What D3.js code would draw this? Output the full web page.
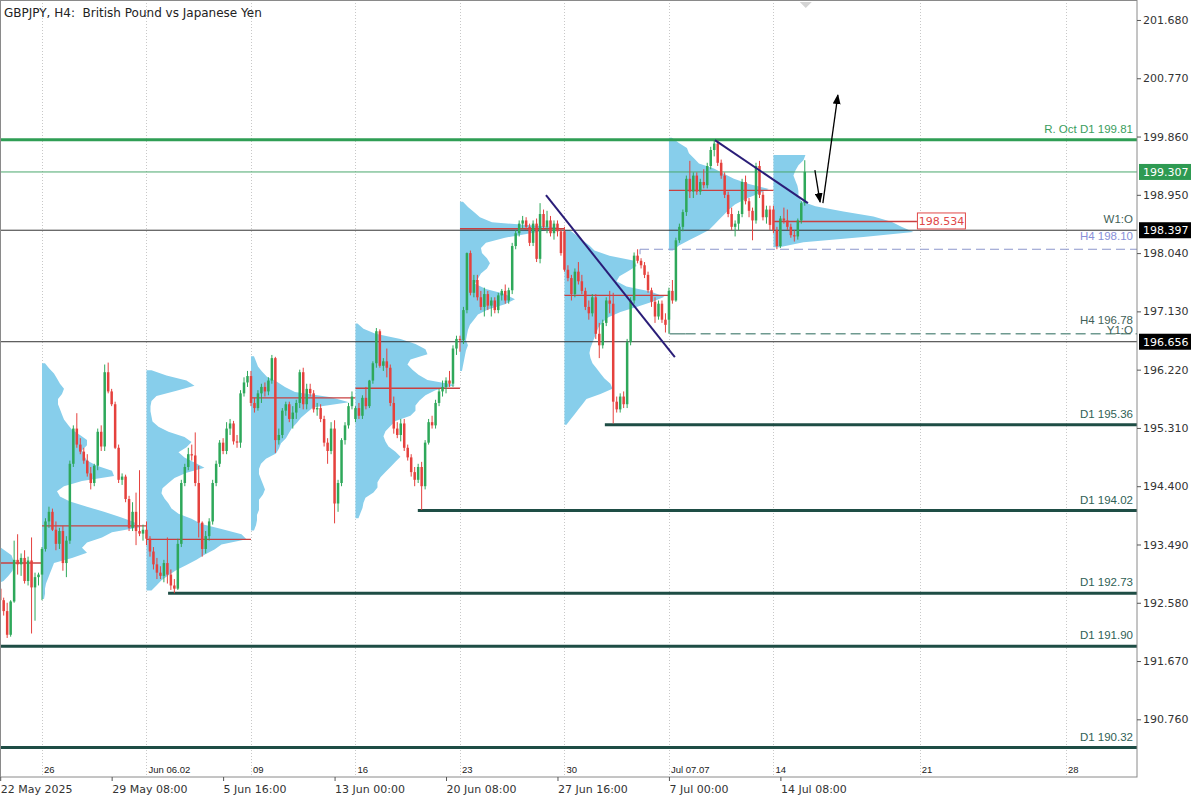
<!DOCTYPE html>
<html><head><meta charset="utf-8"><title>GBPJPY H4</title>
<script src="https://cdn.jsdelivr.net/npm/d3@7/dist/d3.min.js"></script>
<style>html,body{margin:0;padding:0;background:#fff}svg{display:block}</style>
</head><body><svg id="chart" width="1200" height="800"></svg>
<script>
// ---------- DATA ----------
const opens=[
192.80,192.62,192.45,192.08,192.60,193.25,193.18,193.28,192.92,193.24,192.82,192.98,
193.02,193.42,193.85,194.00,193.72,193.50,193.70,193.20,193.55,194.75,195.30,195.05,194.94,194.80,194.60,194.45,194.72,195.25,195.02,196.18,195.88,195.68,195.00,194.50,194.55,194.20,193.75,194.00,193.70,193.66,
193.72,193.58,193.38,193.18,193.05,193.00,193.20,193.02,192.85,192.80,193.50,194.45,194.70,194.90,194.88,194.45,193.83,193.42,193.62,193.85,194.45,194.75,195.08,194.95,195.30,195.38,195.10,195.08,195.85,196.02,
196.12,195.70,195.62,195.85,195.95,195.88,196.05,196.40,195.12,195.20,195.58,195.68,195.45,195.55,195.70,196.18,195.68,195.92,195.85,195.60,195.62,195.45,195.08,194.95,195.30,194.13,194.45,195.12,195.35,195.65,
195.45,195.62,195.50,195.78,195.65,196.05,196.32,196.82,196.28,196.35,196.25,195.70,195.30,195.20,195.38,195.00,194.85,194.62,194.50,194.70,194.40,195.08,195.40,195.35,195.70,195.88,195.95,196.05,196.00,196.55,
196.70,196.68,197.15,198.04,197.42,197.62,197.35,197.20,197.40,197.22,197.30,197.15,197.38,197.45,197.30,197.46,198.15,198.35,198.50,198.55,198.45,198.20,198.50,197.95,198.65,198.45,198.55,198.35,198.50,198.38,
198.38,197.78,197.65,197.40,197.75,197.60,197.45,197.20,197.10,197.35,196.78,196.60,196.95,197.30,197.25,195.72,195.60,195.80,195.68,196.65,197.30,198.00,197.92,197.85,197.70,197.46,197.28,197.05,197.25,197.00,
197.00,197.45,197.30,198.24,198.45,198.68,199.20,199.00,199.25,199.00,199.15,199.10,199.40,199.65,199.75,199.45,199.25,198.95,198.65,198.45,198.50,198.65,199.15,198.85,198.70,198.55,199.40,198.95,198.60,198.72,
198.72,198.40,198.15,198.58,198.55,198.45,198.32,198.30,198.55,198.82];
const highs=[
192.88,192.66,192.58,192.62,193.55,193.65,193.35,193.40,193.30,193.60,193.05,193.05,
193.45,193.90,194.08,194.05,193.85,193.75,193.78,193.62,194.80,195.35,195.54,195.15,195.00,194.90,194.70,194.75,195.30,195.35,196.30,196.33,195.92,195.72,195.05,194.60,194.58,194.25,194.15,194.30,194.65,193.80,
193.85,193.62,193.45,193.28,193.15,193.25,193.60,193.10,192.95,193.58,194.50,194.75,195.00,195.05,195.24,194.72,193.85,193.70,193.90,194.50,194.80,195.12,195.15,195.40,195.45,195.42,195.20,195.90,196.10,196.20,
196.20,195.78,195.90,196.00,196.02,196.10,196.45,196.42,195.30,195.62,195.72,195.72,195.65,195.75,196.22,196.25,196.00,196.00,195.90,195.70,195.68,195.50,195.15,195.40,195.43,194.50,195.15,195.40,195.70,195.88,
195.65,195.70,195.82,195.95,196.06,196.35,196.87,196.85,196.40,196.55,196.30,195.80,195.40,195.45,195.45,195.05,194.90,194.70,194.75,194.78,195.12,195.45,195.50,195.75,195.92,196.05,196.10,196.20,196.60,196.75,
196.75,197.20,198.05,198.08,197.70,197.70,197.45,197.50,197.45,197.35,197.35,197.42,197.48,197.55,197.50,198.20,198.40,198.55,198.62,198.60,198.50,198.55,198.58,198.82,198.72,198.70,198.62,198.55,198.55,198.42,
198.45,197.85,197.70,197.80,197.90,197.70,197.50,197.30,197.40,197.40,196.95,197.00,197.35,197.45,197.42,195.80,195.85,195.88,196.70,197.35,198.05,198.10,197.96,197.90,197.75,197.50,197.35,197.30,197.30,197.10,
197.50,197.62,198.28,198.50,198.72,199.25,199.48,199.30,199.30,199.20,199.35,199.45,199.70,199.82,199.80,199.50,199.30,199.00,198.75,198.55,198.70,199.20,199.25,198.90,198.75,199.45,199.48,199.00,198.78,198.78,
198.78,198.45,198.62,198.75,198.72,198.50,198.40,198.58,198.85,199.49];
const lows=[
192.55,192.38,192.03,192.05,192.58,193.02,193.00,192.88,192.85,192.10,192.30,192.85,
192.62,193.38,193.75,193.70,193.40,193.42,193.08,192.98,193.50,194.70,195.00,194.90,194.75,194.55,194.35,194.40,194.65,194.95,194.95,195.85,195.65,194.98,194.45,194.42,194.15,193.70,193.70,193.48,193.62,193.55,
193.48,193.30,193.10,192.95,192.95,192.90,192.88,192.78,192.73,192.78,193.45,194.40,194.65,194.80,194.40,193.60,193.30,193.35,193.55,193.80,194.40,194.70,194.90,194.90,195.20,195.05,195.00,195.00,195.80,195.95,
195.65,195.55,195.58,195.70,195.80,195.82,196.00,194.92,195.05,195.15,195.50,195.40,195.30,195.45,195.62,195.60,195.60,195.80,195.55,195.50,195.40,195.02,194.75,194.90,193.82,194.00,194.40,195.05,195.30,195.60,
195.40,195.45,195.45,195.60,195.62,196.00,196.25,196.25,196.20,196.10,195.65,195.22,195.15,195.10,194.95,194.80,194.55,194.40,194.45,194.03,194.35,195.05,195.30,195.30,195.65,195.80,195.85,195.95,195.95,196.45,
196.50,196.62,197.10,197.38,197.35,197.30,197.15,197.05,197.15,197.05,197.10,197.10,197.30,197.25,197.25,197.40,198.10,198.30,198.42,198.40,198.15,198.15,197.90,197.88,198.40,198.35,198.30,198.25,198.30,198.00,
197.75,197.60,197.30,197.35,197.55,197.40,197.15,197.00,197.05,196.70,196.40,196.55,196.90,197.10,195.38,195.55,195.55,195.62,195.62,196.60,197.25,197.88,197.80,197.65,197.42,197.20,196.95,197.00,196.95,196.80,
196.78,197.25,197.28,198.20,198.38,198.62,198.90,198.90,198.95,198.95,199.05,199.05,199.35,199.55,199.40,199.20,198.90,198.60,198.40,198.30,198.40,198.60,198.80,198.60,198.24,198.50,198.90,198.55,198.50,198.40,
198.35,198.10,198.12,198.50,198.40,198.28,198.22,198.25,198.50,198.78];
const closes=[
192.62,192.45,192.08,192.60,193.25,193.18,193.28,192.92,193.24,192.82,192.98,193.02,
193.42,193.85,194.00,193.72,193.50,193.70,193.20,193.55,194.75,195.30,195.05,194.94,194.80,194.60,194.45,194.72,195.25,195.02,196.18,195.88,195.68,195.00,194.50,194.55,194.20,193.75,194.00,193.70,193.66,193.72,
193.58,193.38,193.18,193.05,193.00,193.20,193.02,192.85,192.80,193.50,194.45,194.70,194.90,194.88,194.45,193.83,193.42,193.62,193.85,194.45,194.75,195.08,194.95,195.30,195.38,195.10,195.08,195.85,196.02,196.12,
195.70,195.62,195.85,195.95,195.88,196.05,196.40,195.12,195.20,195.58,195.68,195.45,195.55,195.70,196.18,195.68,195.92,195.85,195.60,195.62,195.45,195.08,194.95,195.30,194.13,194.45,195.12,195.35,195.65,195.80,
195.62,195.50,195.78,195.65,196.05,196.32,196.82,196.28,196.35,196.25,195.70,195.30,195.20,195.38,195.00,194.85,194.62,194.50,194.70,194.40,195.08,195.40,195.35,195.70,195.88,195.95,196.05,196.00,196.55,196.70,
196.68,197.15,198.04,197.42,197.62,197.35,197.20,197.40,197.22,197.30,197.15,197.38,197.45,197.30,197.46,198.15,198.35,198.50,198.55,198.45,198.20,198.50,197.95,198.65,198.45,198.55,198.35,198.50,198.38,198.04,
197.78,197.65,197.40,197.75,197.60,197.45,197.20,197.10,197.35,196.78,196.60,196.95,197.30,197.25,195.72,195.60,195.80,195.68,196.65,197.30,198.00,197.92,197.85,197.70,197.46,197.28,197.05,197.25,197.00,196.92,
197.45,197.30,198.24,198.45,198.68,199.20,199.00,199.25,199.00,199.15,199.10,199.40,199.65,199.75,199.45,199.25,198.95,198.65,198.45,198.50,198.65,199.15,198.85,198.70,198.55,199.40,198.95,198.60,198.72,198.48,
198.40,198.15,198.58,198.55,198.45,198.32,198.30,198.55,198.82,199.31];

// weekly volume profiles (volume per 0.08 price row, from top price downwards)
const profileStep=0.08;
const profileStartBars=[-18,12,42,72,102,132,162,192,222];
const profileTops=[193.56,196.32,196.21,196.43,196.94,198.84,198.40,199.84,199.57];
const pocPrices=[193.20,193.78,193.57,195.78,195.93,198.42,197.38,199.02,198.534];
const pocEndBars=[12,42,72,102,132,162,192,222,263.2];
const volW0=[50,60,67,74,76,76,75,71,66,55,50];
const volW1=[3,7,12,15,18,22,20,16,16,18,20,22,26,30,38,45,45,40,42,45,55,70,72,40,22,15,18,28,45,62,78,92,98,70,60,45,40,45,30,12,10,8,6,4,3,3,2];
const volW2=[5,20,40,48,30,10,5,4,4,5,6,12,22,38,45,40,32,38,48,58,40,28,22,16,15,18,22,25,32,45,55,75,95,100,75,68,58,50,40,30,22,15,10,5];
const volW3=[3,5,7,11,16,26,34,44,80,98,62,56,50,46,41,38,35,30,28,25,15,10,8,8,10,12,14,12,8,8,8,6,6,5,3];
const volW4=[2,8,20,45,60,70,72,55,52,57,63,72,100,80,70,64,60,60,55,40,35,30,28,30,33,40,45,40,35,30,25,22,22,18,10,8,7,5,3];
const volW5=[3,8,14,20,32,100,75,45,26,21,22,27,30,27,21,18,15,26,45,55,45,28,18,14,10,8,7,6,8,6,5,4,3,2];
const volW6=[5,12,18,25,30,45,70,72,64,55,52,62,86,100,88,72,56,44,38,34,32,30,28,26,25,26,28,32,36,40,46,48,36,22,18,14,10,6,2];
const volW7=[3,10,18,20,25,30,45,55,65,80,100,88,76,66,60,55,50,45,40,30,20,10,4];
const volW8=[32,30,25,22,20,22,24,25,25,28,42,70,100,118,128,140,90,30,6];
const profileVols=[volW0,volW1,volW2,volW3,volW4,volW5,volW6,volW7,volW8];

// time axis
const sepBars=[12,42,72,102,132,162,192,222,264,306];
const sepLabels=["26","Jun 06.02","09","16","23","30","Jul 07.07","14","21","28"];
const timeTickBars=[0,32,64,96,128,160,192,224];
const timeTickLabels=["22 May 2025","29 May 08:00","5 Jun 16:00","13 Jun 00:00","20 Jun 08:00","27 Jun 16:00","7 Jul 00:00","14 Jul 08:00"];
const priceTicks=[201.68,200.77,199.86,198.95,198.04,197.13,196.22,195.31,194.40,193.49,192.58,191.67,190.76];

// levels
const d1Prices=[195.36,194.02,192.73,191.90,190.32];
const d1StartBars=[173.6,119.9,48.2,-5,-5];
const d1Labels=["D1 195.36","D1 194.02","D1 192.73","D1 191.90","D1 190.32"];
const rOctPrice=199.81;
const bidPrice=199.307;
const w1OpenPrice=198.397;
const y1OpenPrice=196.656;
const h4HighPrice=198.10, h4HighBar=183.7;
const h4LowPrice=196.78, h4LowBar=192.2, h4LowTopPrice=197.46;
// drawings
const trendA=[[156.7,198.945],[193.7,196.415]];
const trendB=[[205.2,199.804],[231.9,198.82]];
const arrowDown=[[233.9,199.335],[235.4,198.836]];
const arrowUp=[[236.2,198.82],[240.5,200.507]];
const lastBar=231;

// ---------- CHART ----------
const PW=1137, PH=777;
const SANS="'Liberation Sans', Arial, sans-serif";
const DV="'DejaVu Sans', Verdana, sans-serif";
const svg=d3.select('#chart');
const x=d3.scaleLinear().domain([0,100]).range([0.2,348.5]);
const y=d3.scaleLinear().domain([189.875,201.992]).range([776,0]);
const vx=d3.scaleLinear().domain([0,100]).range([0,100]);

const defs=svg.append('defs');
defs.append('clipPath').attr('id','plot').append('rect').attr('x',0).attr('y',0).attr('width',PW).attr('height',PH);
defs.append('marker').attr('id','ah').attr('viewBox','0 0 10 8').attr('refX',9).attr('refY',4)
  .attr('markerWidth',10).attr('markerHeight',8).attr('markerUnits','userSpaceOnUse').attr('orient','auto')
  .append('path').attr('d','M0,0L10,4L0,8Z').attr('fill','#000');

svg.append('rect').attr('width',1200).attr('height',800).attr('fill','#fff');
const g=svg.append('g').attr('clip-path','url(#plot)');

// separators
g.selectAll('line.sep').data(sepBars).join('line')
  .attr('x1',d=>Math.round(x(d))+0.5).attr('x2',d=>Math.round(x(d))+0.5).attr('y1',0).attr('y2',PH)
  .attr('stroke','#c8c8c8').attr('stroke-dasharray','1,2');

// profiles
profileVols.forEach((vols,w)=>{
  const x0=x(profileStartBars[w]);
  const pts=vols.map((v,k)=>({p:profileTops[w]-k*profileStep,v}));
  const area=d3.area().y(d=>y(d.p)).x0(x0).x1(d=>x0+vx(d.v)).curve(d3.curveLinear);
  g.append('path').datum(pts).attr('d',area).attr('fill','#87ceeb');
});
// POC lines
g.selectAll('line.poc').data(pocPrices).join('line')
  .attr('x1',(d,i)=>x(profileStartBars[i])).attr('x2',(d,i)=>x(pocEndBars[i]))
  .attr('y1',d=>y(d)).attr('y2',d=>y(d)).attr('stroke','#c94040').attr('stroke-width',1.4);

// horizontal levels
function hline(p,x1,x2,stroke,w,dash){
  const l=g.append('line').attr('x1',x1).attr('x2',x2).attr('y1',y(p)).attr('y2',y(p))
    .attr('stroke',stroke).attr('stroke-width',w);
  if(dash) l.attr('stroke-dasharray',dash);
  return l;
}
hline(rOctPrice,0,PW,'#2f9e55',3);
hline(bidPrice,0,PW,'#4aa86c',1);
hline(w1OpenPrice,0,PW,'#333',1);
hline(y1OpenPrice,0,PW,'#333',1);
hline(h4HighPrice,x(h4HighBar),PW,'#8c96cc',1,'9,5');
g.append('line').attr('x1',x(h4HighBar)).attr('x2',x(h4HighBar)).attr('y1',y(h4HighPrice)).attr('y2',y(h4HighPrice)+5).attr('stroke','#8c96cc');
hline(h4LowPrice,x(h4LowBar),x(h4LowBar)+16,'#6f9a90',1.5);
hline(h4LowPrice,x(h4LowBar)+16,PW,'#6f9a90',1.5,'10,5');
g.append('line').attr('x1',x(h4LowBar)).attr('x2',x(h4LowBar)).attr('y1',y(h4LowTopPrice)).attr('y2',y(h4LowPrice)).attr('stroke','#8fb0a8');
d1Prices.forEach((p,i)=>hline(p,x(d1StartBars[i]),PW,'#1e4d45',3));

// candles
const candles=opens.map((o,i)=>({i,o,h:highs[i],l:lows[i],c:closes[i]}));
const col=d=>d.c>=d.o?'#2ea85a':'#e5413d';
g.selectAll('line.wick').data(candles).join('line')
  .attr('x1',d=>x(d.i)).attr('x2',d=>x(d.i)).attr('y1',d=>y(d.h)).attr('y2',d=>y(d.l))
  .attr('stroke',col).attr('stroke-width',1);
g.selectAll('rect.body').data(candles).join('rect')
  .attr('x',d=>x(d.i)-1.25).attr('width',2.5)
  .attr('y',d=>y(Math.max(d.o,d.c))).attr('height',d=>Math.max(1,Math.abs(y(d.o)-y(d.c))))
  .attr('fill',col);

// trend lines & arrows
const lineGen=d3.line().x(d=>x(d[0])).y(d=>y(d[1]));
[trendA,trendB].forEach(t=>g.append('path').attr('d',lineGen(t)).attr('stroke','#2a1d78').attr('stroke-width',2).attr('fill','none'));
[arrowDown,arrowUp].forEach(a=>g.append('path').attr('d',lineGen(a)).attr('stroke','#000').attr('stroke-width',1.3).attr('fill','none').attr('marker-end','url(#ah)'));

// top marker
const mx=x(lastBar)+1;
g.append('path').attr('d',`M${mx-6},2L${mx+6},2L${mx},8Z`).attr('fill','#d4d4d4');

// POC price label of current week
const lb=x(pocEndBars[8]);
svg.append('rect').attr('x',lb+0.5).attr('y',y(pocPrices[8])-8.5).attr('width',48).attr('height',16)
  .attr('fill','#fff').attr('stroke','#e04848');
svg.append('text').attr('x',lb+24.5).attr('y',y(pocPrices[8])+4).attr('text-anchor','middle')
  .attr('font-family',DV).attr('font-size',11).attr('fill','#e04848').text(pocPrices[8].toFixed(3));

// level labels
function rlabel(txt,yy,fill){
  svg.append('text').attr('x',1133).attr('y',yy).attr('text-anchor','end').attr('font-family',SANS)
    .attr('font-size',11.5).attr('fill',fill).text(txt);
}
rlabel('R. Oct D1 '+rOctPrice.toFixed(2),y(rOctPrice)-7,'#3a9d5d');
rlabel('W1:O',y(w1OpenPrice)-7,'#3f5f58');
rlabel('H4 '+h4HighPrice.toFixed(2),y(h4HighPrice)-9,'#8890d8');
rlabel('H4 '+h4LowPrice.toFixed(2),y(h4LowPrice)-10,'#3f5f58');
rlabel('Y1:O',y(y1OpenPrice)-8,'#3f5f58');
d1Prices.forEach((p,i)=>rlabel(d1Labels[i],y(p)-7,'#2f5f55'));

// separator labels
svg.selectAll('text.sepl').data(sepBars).join('text')
  .attr('x',d=>x(d)+2).attr('y',773).attr('font-family',SANS).attr('font-size',9.5).attr('fill','#222')
  .text((d,i)=>sepLabels[i]);

// frame
svg.append('rect').attr('x',0.5).attr('y',0.5).attr('width',PW-0.5).attr('height',PH-0.5)
  .attr('fill','none').attr('stroke','#8a8a8a');

// price axis
const ya=svg.append('g').attr('transform',`translate(${PW},0)`)
  .call(d3.axisRight(y).tickValues(priceTicks).tickSize(4).tickSizeOuter(0).tickPadding(2).tickFormat(d3.format('.3f')));
ya.select('.domain').remove();
ya.selectAll('line').attr('stroke','#555');
ya.selectAll('text').attr('font-family',DV).attr('font-size',11).attr('fill','#333');

// time axis
const xa=svg.append('g').attr('transform',`translate(0,${PH})`)
  .call(d3.axisBottom(x).tickValues(timeTickBars).tickSize(4).tickSizeOuter(0).tickPadding(4).tickFormat((d,i)=>timeTickLabels[i]));
xa.select('.domain').remove();
xa.selectAll('line').attr('stroke','#555');
xa.selectAll('text').attr('text-anchor','start').attr('font-family',DV).attr('font-size',11).attr('fill','#333');

// price boxes
function pbox(p,fill){
  svg.append('rect').attr('x',1139).attr('y',y(p)-8).attr('width',52).attr('height',16).attr('fill',fill);
  svg.append('text').attr('x',1143).attr('y',y(p)+4).attr('font-family',DV).attr('font-size',11).attr('fill','#fff').text(p.toFixed(3));
}
pbox(bidPrice,'#2e9a52');
pbox(w1OpenPrice,'#000');
pbox(y1OpenPrice,'#000');

// title
svg.append('text').attr('x',4).attr('y',17).attr('font-family',DV).attr('font-size',12).attr('fill','#222')
  .style('white-space','pre').text('GBPJPY, H4:  British Pound vs Japanese Yen');
</script></body></html>
